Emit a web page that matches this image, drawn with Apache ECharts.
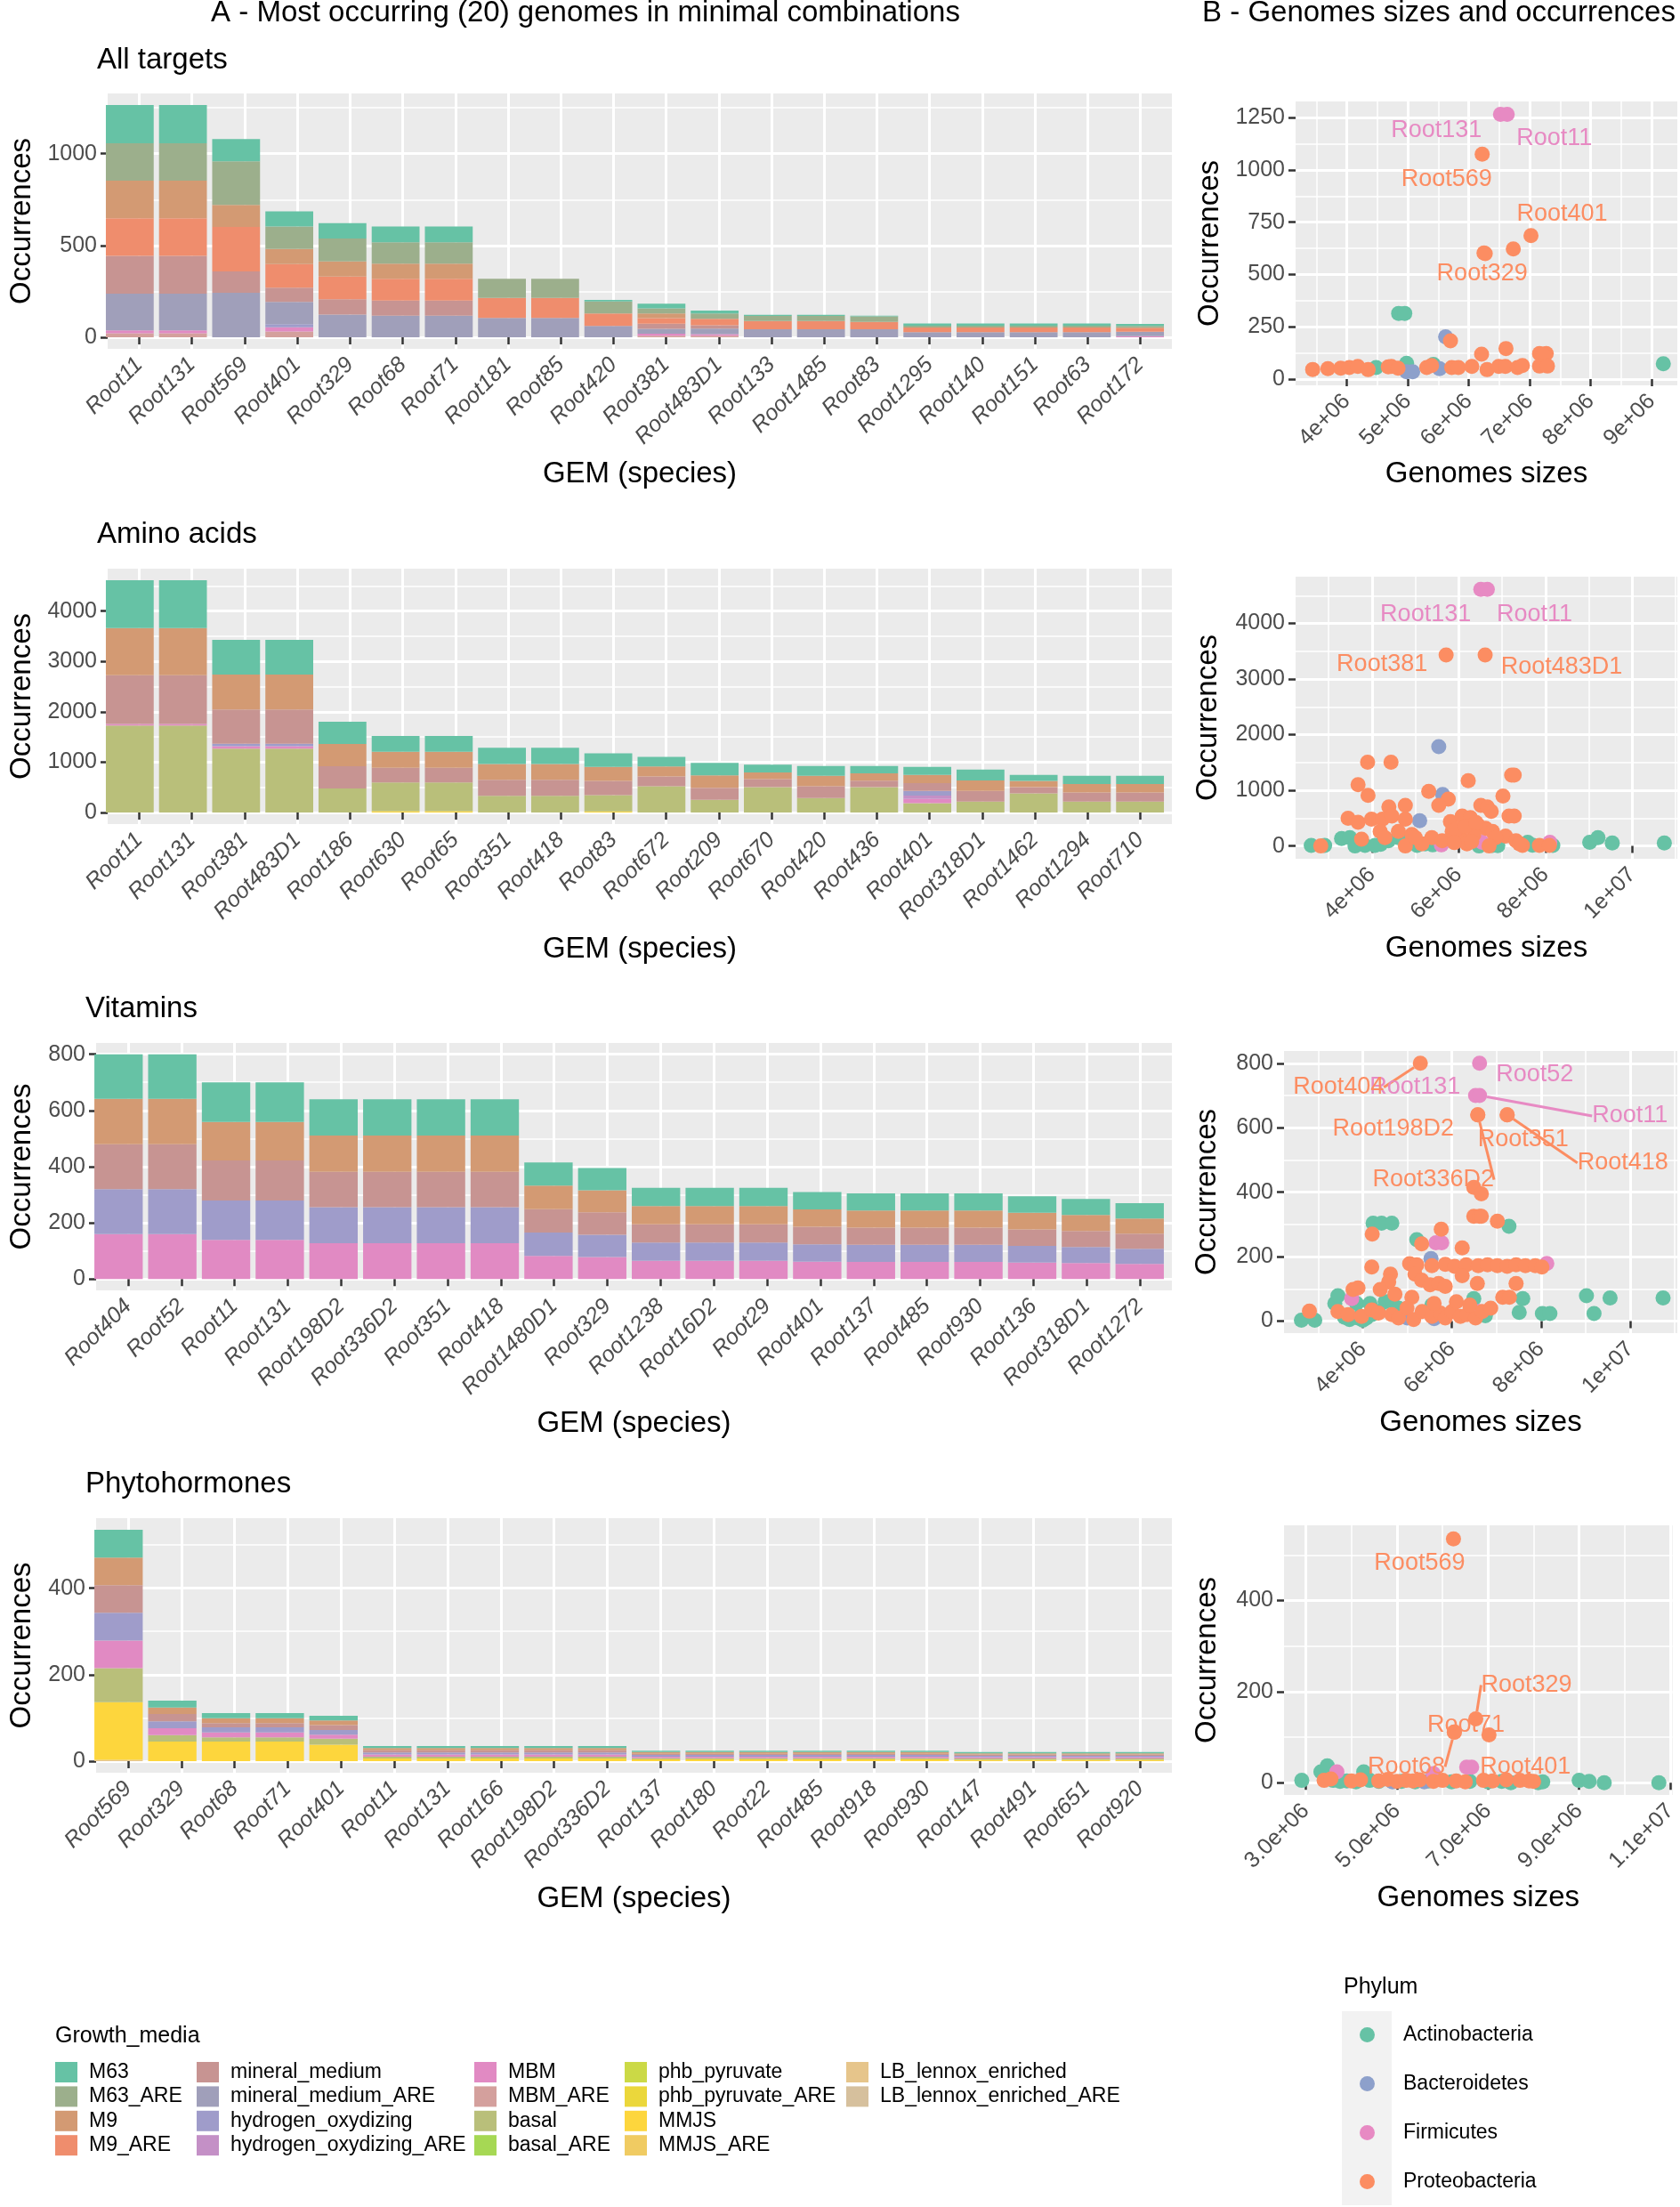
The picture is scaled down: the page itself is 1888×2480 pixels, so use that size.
<!DOCTYPE html>
<html>
<head>
<meta charset="utf-8">
<script src="https://cdn.jsdelivr.net/npm/echarts@6.0.0/dist/echarts.min.js"></script>
<style>
html, body { margin: 0; padding: 0; background: #ffffff; }
#main { width: 1888px; height: 2480px; }
</style>
</head>
<body>
<div id="main"></div>
<script>
var FONT = '"Liberation Sans", Arial, Helvetica, sans-serif';

// growth media, in factor order (first level ends up on top of each stack)
var mediaNames = ['M63', 'M63_ARE', 'M9', 'M9_ARE', 'mineral_medium', 'mineral_medium_ARE',
    'hydrogen_oxydizing', 'hydrogen_oxydizing_ARE', 'MBM', 'MBM_ARE', 'basal', 'basal_ARE',
    'phb_pyruvate', 'phb_pyruvate_ARE', 'MMJS', 'MMJS_ARE', 'LB_lennox_enriched', 'LB_lennox_enriched_ARE'];
var mediaColors = ['#66C2A5', '#9CAF8C', '#D39A73', '#EF8D6D', '#C79492', '#A09FBA',
    '#9F9CCA', '#C490C6', '#E18AC3', '#D4A09D', '#B9BF7A', '#A6D854',
    '#CBD946', '#EBD73B', '#FDD63D', '#F0CB62', '#E6C58B', '#D6C09D'];
var phylumNames = ['Actinobacteria', 'Bacteroidetes', 'Firmicutes', 'Proteobacteria'];
var phylumColors = ['#66C2A5', '#8DA0CB', '#E78AC3', '#FC8D62'];

// ---------- A : bars ----------
// All targets
var allGenomes = ['Root11', 'Root131', 'Root569', 'Root401', 'Root329', 'Root68', 'Root71', 'Root181', 'Root85', 'Root420',
    'Root381', 'Root483D1', 'Root133', 'Root1485', 'Root83', 'Root1295', 'Root140', 'Root151', 'Root63', 'Root172'];
var allStack = [
    ['M63',                [209, 209, 122, 82, 84, 86, 86, 0, 0, 8, 25, 16, 6, 6, 3, 12, 12, 12, 12, 11]],
    ['M63_ARE',            [203, 203, 237, 123, 125, 116, 116, 105, 105, 65, 28, 30, 28, 28, 30, 10, 10, 10, 10, 10]],
    ['M9',                 [205, 205, 120, 82, 82, 82, 82, 0, 0, 0, 26, 0, 0, 0, 0, 0, 0, 0, 0, 0]],
    ['M9_ARE',             [204, 204, 242, 129, 124, 119, 119, 108, 108, 68, 30, 35, 44, 44, 40, 25, 25, 25, 25, 22]],
    ['mineral_medium',     [207, 207, 117, 77, 83, 82, 82, 0, 0, 0, 28, 18, 0, 0, 0, 0, 0, 0, 0, 0]],
    ['mineral_medium_ARE', [199, 199, 242, 122, 124, 118, 118, 106, 106, 62, 27, 30, 44, 44, 44, 28, 28, 28, 28, 24]],
    ['hydrogen_oxydizing', [0, 0, 0, 16, 0, 0, 0, 0, 0, 0, 0, 0, 0, 0, 0, 0, 0, 0, 0, 0]],
    ['MBM',                [16, 16, 0, 24, 0, 0, 0, 0, 0, 0, 10, 8, 0, 0, 0, 0, 0, 0, 0, 6]],
    ['MBM_ARE',            [22, 22, 0, 31, 0, 0, 0, 0, 0, 0, 9, 9, 0, 0, 0, 0, 0, 0, 0, 0]]
];
var allYTicks = [0, 500, 1000];
var allYMinor = [250, 750, 1250];

// Amino acids
var aaGenomes = ['Root11', 'Root131', 'Root381', 'Root483D1', 'Root186', 'Root630', 'Root65', 'Root351', 'Root418', 'Root83',
    'Root672', 'Root209', 'Root670', 'Root420', 'Root436', 'Root401', 'Root318D1', 'Root1462', 'Root1294', 'Root710'];
var aaStack = [
    ['M63',                    [950, 950, 693, 693, 441, 312, 312, 324, 324, 269, 190, 251, 154, 196, 147, 160, 215, 122, 165, 165]],
    ['M9',                     [937, 937, 692, 692, 441, 319, 319, 313, 313, 282, 196, 245, 134, 208, 147, 165, 208, 123, 166, 166]],
    ['mineral_medium',         [968, 968, 680, 680, 441, 294, 294, 318, 318, 282, 196, 239, 160, 233, 129, 153, 215, 122, 184, 184]],
    ['hydrogen_oxydizing',     [0, 0, 50, 50, 0, 0, 0, 0, 0, 0, 0, 0, 0, 0, 0, 92, 0, 0, 0, 0]],
    ['hydrogen_oxydizing_ARE', [0, 0, 0, 0, 0, 0, 0, 0, 0, 0, 0, 0, 0, 0, 0, 70, 0, 0, 0, 0]],
    ['MBM',                    [30, 30, 48, 48, 0, 0, 0, 0, 0, 0, 0, 0, 0, 0, 0, 83, 0, 0, 0, 0]],
    ['basal',                  [1728, 1728, 1268, 1268, 478, 569, 569, 331, 331, 323, 521, 251, 502, 288, 502, 184, 214, 380, 214, 214]],
    ['MMJS',                   [0, 0, 0, 0, 0, 25, 25, 0, 0, 20, 0, 0, 0, 0, 0, 0, 0, 0, 0, 0]]
];
var aaYTicks = [0, 1000, 2000, 3000, 4000];
var aaYMinor = [500, 1500, 2500, 3500, 4500];

// Vitamins
var vitGenomes = ['Root404', 'Root52', 'Root11', 'Root131', 'Root198D2', 'Root336D2', 'Root351', 'Root418', 'Root1480D1', 'Root329',
    'Root1238', 'Root16D2', 'Root29', 'Root401', 'Root137', 'Root485', 'Root930', 'Root136', 'Root318D1', 'Root1272'];
var vitStack = [
    ['M63',                [159, 159, 141, 141, 129, 129, 129, 129, 82, 79, 65, 65, 65, 62, 61, 61, 61, 59, 57, 54]],
    ['M9',                 [161, 161, 137, 137, 129, 129, 129, 129, 84, 78, 65, 65, 65, 62, 61, 61, 61, 59, 57, 54]],
    ['mineral_medium',     [160, 160, 142, 142, 126, 126, 126, 126, 83, 80, 65, 65, 65, 62, 61, 61, 61, 59, 57, 54]],
    ['hydrogen_oxydizing', [160, 160, 140, 140, 128, 128, 128, 128, 83, 79, 65, 65, 65, 62, 61, 61, 61, 59, 57, 54]],
    ['MBM',                [160, 160, 140, 140, 128, 128, 128, 128, 83, 79, 65, 65, 65, 62, 61, 61, 61, 59, 57, 54]]
];
var vitYTicks = [0, 200, 400, 600, 800];
var vitYMinor = [100, 300, 500, 700];

// Phytohormones
var phyGenomes = ['Root569', 'Root329', 'Root68', 'Root71', 'Root401', 'Root11', 'Root131', 'Root166', 'Root198D2', 'Root336D2',
    'Root137', 'Root180', 'Root22', 'Root485', 'Root918', 'Root930', 'Root147', 'Root491', 'Root651', 'Root920'];
var phyStack = [
    ['M63',                [64, 16, 12, 12, 11, 5, 5, 5, 5, 5, 3, 3, 3, 3, 3, 3, 3, 3, 3, 3]],
    ['M9',                 [64, 15, 11, 11, 11, 5, 5, 5, 5, 5, 4, 4, 4, 4, 4, 4, 3, 3, 3, 3]],
    ['mineral_medium',     [64, 17, 10, 10, 11, 5, 5, 5, 5, 5, 3, 3, 3, 3, 3, 3, 3, 3, 3, 3]],
    ['hydrogen_oxydizing', [64, 16, 12, 12, 11, 5, 5, 5, 5, 5, 4, 4, 4, 4, 4, 4, 3, 3, 3, 3]],
    ['MBM',                [64, 16, 11, 11, 9, 5, 5, 5, 5, 5, 3, 3, 3, 3, 3, 3, 3, 3, 3, 3]],
    ['basal',              [79, 15, 10, 10, 14, 4, 4, 4, 4, 4, 3, 3, 3, 3, 3, 3, 3, 3, 3, 3]],
    ['MMJS',               [133, 45, 45, 45, 38, 6, 6, 6, 6, 6, 4, 4, 4, 4, 4, 4, 3, 3, 3, 3]],
    ['LB_lennox_enriched', [3, 0, 0, 0, 0, 0, 0, 0, 0, 0, 0, 0, 0, 0, 0, 0, 0, 0, 0, 0]]
];
var phyYTicks = [0, 200, 400];
var phyYMinor = [100, 300, 500];

// ---------- B : genome size vs occurrences ----------
// [genome size, occurrences, name of labelled genome]
var allActino = [[4.85e6, 314], [4.95e6, 314], [4.48e6, 55], [4.98e6, 75], [5.42e6, 70], [9.19e6, 73]];
var allBactero = [[5.62e6, 202], [4.98e6, 35], [5.08e6, 35], [5.52e6, 50]];
var allFirmi = [[6.52e6, 1265, 'Root131'], [6.63e6, 1265, 'Root11']];
var allProteo = [[6.22e6, 1075, 'Root569'], [7.02e6, 686, 'Root401'], [6.73e6, 622, 'Root329'], [6.25e6, 603], [6.27e6, 600],
    [5.70e6, 183], [6.61e6, 146], [6.21e6, 119], [7.16e6, 122], [7.27e6, 122], [7.22e6, 117],
    [3.44e6, 46], [3.69e6, 50], [3.90e6, 52], [4.04e6, 55], [4.18e6, 60], [4.35e6, 45], [4.68e6, 58], [4.73e6, 60],
    [4.84e6, 52], [5.31e6, 55], [5.39e6, 65], [5.72e6, 55], [5.83e6, 55], [6.05e6, 60], [6.30e6, 45], [6.49e6, 60],
    [6.60e6, 60], [6.80e6, 55], [6.88e6, 65], [7.16e6, 62], [7.29e6, 62]];
var allXTicks = [4e6, 5e6, 6e6, 7e6, 8e6, 9e6];
var allXLabels = ['4e+06', '5e+06', '6e+06', '7e+06', '8e+06', '9e+06'];
var allXMinor = [3.5e6, 4.5e6, 5.5e6, 6.5e6, 7.5e6, 8.5e6];
var allBYTicks = [0, 250, 500, 750, 1000, 1250];
var allBYMinor = [125, 375, 625, 875, 1125];
var allLabels = {Root131: [-72, 18], Root11: [53, 27], Root569: [-40, 28], Root401: [35, -24], Root329: [-35, 28]};

var aaActino = [[2.60e6, 10], [2.91e6, 10], [3.30e6, 133], [3.49e6, 150], [3.61e6, 0], [3.84e6, 10], [4.07e6, 10],
    [4.38e6, 94], [4.61e6, 150], [5.04e6, 10], [5.23e6, 39], [6.47e6, 0], [6.78e6, 10], [7.59e6, 66], [8.17e6, 10],
    [9.02e6, 66], [9.21e6, 150], [9.54e6, 55], [10.74e6, 55], [4.20e6, 30], [4.80e6, 40], [5.40e6, 20], [5.60e6, 30],
    [6.90e6, 5], [7.70e6, 15]];
var aaBactero = [[5.54e6, 1784], [5.63e6, 925], [5.10e6, 454]];
var aaFirmi = [[6.51e6, 4613, 'Root131'], [6.66e6, 4613, 'Root11'], [6.54e6, 66], [8.10e6, 66], [5.60e6, 20]];
var aaProteo = [[5.71e6, 3431, 'Root381'], [6.61e6, 3431, 'Root483D1'], [3.90e6, 1507], [4.44e6, 1507], [7.22e6, 1274],
    [7.28e6, 1274], [6.22e6, 1174], [3.68e6, 1102], [3.91e6, 908], [5.31e6, 980], [5.76e6, 842], [5.54e6, 731],
    [7.02e6, 897], [4.39e6, 703], [4.77e6, 731], [6.51e6, 731], [6.66e6, 703], [6.75e6, 620], [7.16e6, 537],
    [7.28e6, 537], [3.45e6, 498], [3.68e6, 427], [3.99e6, 482], [4.24e6, 482], [4.46e6, 537], [4.77e6, 482],
    [5.81e6, 437], [6.08e6, 537], [6.27e6, 510], [6.45e6, 371], [6.62e6, 316], [6.78e6, 260], [7.08e6, 177],
    [2.82e6, 0], [3.76e6, 122], [4.19e6, 260], [4.61e6, 260], [4.92e6, 205], [5.38e6, 150], [5.62e6, 94],
    [5.85e6, 260], [6.04e6, 150], [6.35e6, 205], [6.85e6, 150], [7.32e6, 94], [7.47e6, 10], [7.86e6, 10],
    [8.09e6, 10], [5.15e6, 39], [4.77e6, 0], [6.19e6, 39], [6.70e6, 0], [5.95e6, 300], [6.15e6, 350],
    [6.40e6, 420], [5.00e6, 150], [4.30e6, 150], [7.40e6, 40], [5.90e6, 60], [6.30e6, 80]];
var aaXTicks = [4e6, 6e6, 8e6, 1e7];
var aaXLabels = ['4e+06', '6e+06', '8e+06', '1e+07'];
var aaXMinor = [3e6, 5e6, 7e6, 9e6, 11e6];
var aaBYTicks = [0, 1000, 2000, 3000, 4000];
var aaBYMinor = [500, 1500, 2500, 3500, 4500];
var aaLabels = {Root131: [-62, 28], Root11: [53, 28], Root381: [-72, 10], Root483D1: [86, 13]};

var vitActino = [[4.23e6, 304], [4.42e6, 304], [4.65e6, 304], [5.21e6, 253], [7.28e6, 294], [7.59e6, 70], [7.51e6, 27],
    [9.02e6, 79], [9.55e6, 72], [9.19e6, 24], [10.74e6, 72], [8.03e6, 24], [8.20e6, 24], [3.37e6, 55], [3.44e6, 79],
    [2.62e6, 3], [2.92e6, 3], [3.89e6, 10], [4.08e6, 10], [3.59e6, 12], [4.20e6, 20], [4.50e6, 60], [4.65e6, 65],
    [3.86e6, 55], [4.16e6, 55], [6.49e6, 70], [6.75e6, 17], [5.55e6, 50], [3.70e6, 5], [4.00e6, 3], [4.35e6, 30],
    [4.80e6, 40], [5.70e6, 20]];
var vitBactero = [[5.53e6, 194], [5.00e6, 10], [5.60e6, 8]];
var vitFirmi = [[6.62e6, 800, 'Root52'], [6.53e6, 700, 'Root131'], [6.62e6, 700, 'Root11'], [5.64e6, 243], [5.77e6, 243],
    [8.13e6, 179], [3.75e6, 70], [6.60e6, 30]];
var vitProteo = [[5.29e6, 800, 'Root404'], [6.58e6, 640, 'Root198D2'], [6.58e6, 640, 'Root336D2'], [7.24e6, 640, 'Root351'],
    [7.24e6, 640, 'Root418'], [6.49e6, 415], [6.66e6, 395], [6.49e6, 325], [6.62e6, 325], [6.66e6, 325], [7.02e6, 310],
    [4.21e6, 270], [5.32e6, 240], [5.76e6, 285], [6.23e6, 227], [5.05e6, 178], [5.21e6, 175], [5.55e6, 172],
    [5.85e6, 176], [6.06e6, 170], [6.32e6, 175], [6.59e6, 172], [6.80e6, 175], [7.02e6, 172], [7.24e6, 170],
    [7.44e6, 175], [7.65e6, 172], [7.87e6, 172], [8.02e6, 168], [4.20e6, 168], [4.62e6, 146], [4.58e6, 122],
    [4.39e6, 98], [3.78e6, 98], [3.89e6, 103], [7.44e6, 117], [5.17e6, 146], [5.32e6, 127], [5.51e6, 113],
    [5.70e6, 117], [5.85e6, 108], [6.23e6, 141], [6.57e6, 117], [7.14e6, 74], [7.29e6, 74], [4.72e6, 84],
    [5.10e6, 74], [2.80e6, 31], [3.44e6, 30], [3.67e6, 20], [3.97e6, 15], [4.20e6, 35], [4.35e6, 25], [4.65e6, 20],
    [4.80e6, 10], [4.99e6, 40], [5.14e6, 5], [5.33e6, 30], [5.55e6, 15], [5.74e6, 25], [5.85e6, 10], [6.00e6, 30],
    [6.19e6, 15], [6.34e6, 20], [6.53e6, 10], [6.68e6, 30], [6.87e6, 40], [5.60e6, 55], [6.10e6, 60], [6.40e6, 50]];
var vitXTicks = [4e6, 6e6, 8e6, 1e7];
var vitXLabels = ['4e+06', '6e+06', '8e+06', '1e+07'];
var vitXMinor = [3e6, 5e6, 7e6, 9e6, 11e6];
var vitBYTicks = [0, 200, 400, 600, 800];
var vitBYMinor = [100, 300, 500, 700];
var vitLabels = {Root404: [-92, 27, true], Root131: [-68, -9], Root52: [62, 13], Root11: [169, 23, true],
    Root198D2: [-95, 16], Root336D2: [-50, 73, true], Root351: [18, 28], Root418: [130, 54, true]};

var phyActino = [[2.91e6, 5], [3.33e6, 24], [3.47e6, 37], [4.27e6, 24], [9.00e6, 5], [9.22e6, 3], [9.55e6, 0], [10.75e6, 0],
    [3.60e6, 5], [3.75e6, 3], [3.90e6, 4], [4.10e6, 2], [4.40e6, 5], [4.60e6, 3], [5.10e6, 3], [5.40e6, 2], [5.70e6, 4],
    [6.20e6, 2], [6.60e6, 3], [7.00e6, 2], [7.30e6, 3], [7.50e6, 0], [8.10e6, 0], [8.20e6, 2]];
var phyBactero = [[4.90e6, 2], [5.60e6, 2]];
var phyFirmi = [[6.53e6, 34], [6.64e6, 34], [3.68e6, 24], [5.80e6, 20]];
var phyProteo = [[6.24e6, 535, 'Root569'], [6.73e6, 140, 'Root329'], [6.26e6, 111, 'Root71'], [6.26e6, 111, 'Root68'],
    [7.02e6, 105, 'Root401'], [3.40e6, 5], [3.55e6, 8], [4.00e6, 4], [4.20e6, 6], [4.60e6, 4], [4.80e6, 7], [5.00e6, 3],
    [5.20e6, 5], [5.35e6, 4], [5.50e6, 6], [5.80e6, 3], [6.00e6, 5], [6.30e6, 4], [6.50e6, 2], [6.90e6, 5], [7.10e6, 4],
    [7.40e6, 6], [7.70e6, 5], [7.90e6, 4], [8.00e6, 3]];
var phyXTicks = [3e6, 5e6, 7e6, 9e6, 11e6];
var phyXLabels = ['3.0e+06', '5.0e+06', '7.0e+06', '9.0e+06', '1.1e+07'];
var phyXMinor = [4e6, 6e6, 8e6, 10e6];
var phyBYTicks = [0, 200, 400];
var phyBYMinor = [100, 300, 500];
var phyLabels = {Root569: [-38, 27], Root329: [57, -38, true], Root71: [13, -8], Root68: [-54, 39, true], Root401: [41, 36]};

// ---------- building the option ----------
var grids = [], xAxes = [], yAxes = [], series = [];

function addGrid(box, panel) {
    grids.push({left: box[0], top: box[1], width: box[2], height: box[3], show: panel,
        backgroundColor: panel ? '#EBEBEB' : 'transparent', borderWidth: 0});
    return grids.length - 1;
}

function mainAxis(gi, a) {
    return {
        type: 'value', gridIndex: gi, min: a.min, max: a.max,
        name: a.name, nameLocation: 'middle', nameGap: a.nameGap, nameRotate: a.nameRotate || 0,
        nameTextStyle: {fontFamily: FONT, fontSize: 33, color: '#000000'},
        axisLine: {show: false},
        axisTick: {show: true, customValues: a.ticks, length: 8, lineStyle: {color: '#333333', width: 2.5}},
        axisLabel: {show: true, customValues: a.ticks, formatter: a.fmt, rotate: a.rotate || 0, margin: a.margin,
            fontFamily: FONT, fontSize: 25, color: '#4D4D4D', fontStyle: a.italic ? 'italic' : 'normal'},
        splitLine: {show: true, lineStyle: {color: '#FFFFFF', width: 3}}
    };
}

function minorAxis(gi, range, values) {
    return {
        type: 'value', gridIndex: gi, min: range[0], max: range[1],
        axisLine: {show: false},
        axisTick: {show: false, customValues: values},
        axisLabel: {show: false, customValues: values},
        splitLine: {show: true, lineStyle: {color: '#FFFFFF', width: 1.5}}
    };
}

// grey panel carries the ggplot-like axes; an inset grid (0.6 unit expansion each side) holds the stacked bars
function barPanel(box, genomes, stack, yRange, yTicks, yMinor, gapX, gapY) {
    var n = genomes.length;
    var gi = addGrid(box, true);
    xAxes.push(mainAxis(gi, {
        min: 0.4, max: n + 0.6,
        ticks: genomes.map(function (g, i) { return i + 1; }),
        fmt: function (v) { return genomes[Math.round(v) - 1]; },
        rotate: 45, italic: true, margin: 14, name: 'GEM (species)', nameGap: gapX
    }));
    yAxes.push(mainAxis(gi, {
        min: yRange[0], max: yRange[1], ticks: yTicks,
        fmt: function (v) { return String(v); },
        margin: 12, name: 'Occurrences', nameGap: gapY, nameRotate: 90
    }));
    yAxes.push(minorAxis(gi, yRange, yMinor));

    var unit = box[2] / (n + 0.2);
    var di = addGrid([box[0] + 0.1 * unit, box[1], n * unit, box[3]], false);
    var xi = xAxes.length;
    xAxes.push({type: 'category', gridIndex: di, data: genomes, show: false, boundaryGap: true});
    var yi = yAxes.length;
    yAxes.push({type: 'value', gridIndex: di, min: yRange[0], max: yRange[1], show: false, splitLine: {show: false}});

    for (var m = mediaNames.length - 1; m >= 0; m--) {
        var vals = null;
        stack.forEach(function (s) { if (s[0] === mediaNames[m]) vals = s[1]; });
        series.push({
            type: 'bar', name: mediaNames[m], xAxisIndex: xi, yAxisIndex: yi,
            stack: 'g' + gi, barWidth: '90%',
            data: genomes.map(function (g, i) { return vals ? vals[i] : 0; }),
            itemStyle: {color: mediaColors[m]}
        });
    }
}

function scatterPanel(box, xRange, xTicks, xLabels, xMinor, yRange, yTicks, yMinor, groups, labels, gapX, gapY) {
    var gi = addGrid(box, true);
    var xi = xAxes.length;
    xAxes.push(mainAxis(gi, {
        min: xRange[0], max: xRange[1], ticks: xTicks,
        fmt: function (v) {
            var best = 0;
            xTicks.forEach(function (t, i) { if (Math.abs(t - v) < Math.abs(xTicks[best] - v)) best = i; });
            return xLabels[best];
        },
        rotate: 45, margin: 14, name: 'Genomes sizes', nameGap: gapX
    }));
    xAxes.push(minorAxis(gi, xRange, xMinor));
    var yi = yAxes.length;
    yAxes.push(mainAxis(gi, {
        min: yRange[0], max: yRange[1], ticks: yTicks,
        fmt: function (v) { return String(v); },
        margin: 12, name: 'Occurrences', nameGap: gapY, nameRotate: 90
    }));
    yAxes.push(minorAxis(gi, yRange, yMinor));

    var labelData = [], offs = [];
    groups.forEach(function (pts, k) {
        series.push({
            type: 'scatter', name: phylumNames[k], xAxisIndex: xi, yAxisIndex: yi,
            symbolSize: 17, itemStyle: {color: phylumColors[k], opacity: 1},
            data: pts.map(function (p) { return [p[0], p[1]]; })
        });
        pts.forEach(function (p) {
            if (p[2] && labels[p[2]]) {
                var o = labels[p[2]];
                offs.push(o);
                labelData.push({
                    value: [p[0], p[1]],
                    label: {show: true, formatter: p[2], color: phylumColors[k], opacity: 1},
                    labelLine: {show: !!o[2], lineStyle: {color: phylumColors[k], width: 3, opacity: 1}}
                });
            }
        });
    });
    series.push({
        type: 'scatter', name: 'labels', xAxisIndex: xi, yAxisIndex: yi, z: 4, silent: true,
        symbolSize: 17, itemStyle: {color: 'rgba(0,0,0,0)'},
        label: {show: true, position: 'inside', fontFamily: FONT, fontSize: 27, opacity: 1},
        labelLine: {show: false},
        labelLayout: function (params) {
            var o = offs[params.dataIndex];
            return {dx: o[0], dy: o[1], hideOverlap: false};
        },
        data: labelData
    });
}

barPanel([110, 105, 1207, 287], allGenomes, allStack, [-63, 1328], allYTicks, allYMinor, 124, 80);
barPanel([110, 639, 1207, 287], aaGenomes, aaStack, [-231, 4844], aaYTicks, aaYMinor, 124, 80);
barPanel([97, 1172, 1220, 278], vitGenomes, vitStack, [-40, 840], vitYTicks, vitYMinor, 133, 67);
barPanel([97, 1706, 1220, 286], phyGenomes, phyStack, [-27, 562], phyYTicks, phyYMinor, 125, 67);

scatterPanel([1456, 114, 429, 319], [3.16e6, 9.42e6], allXTicks, allXLabels, allXMinor, [-30, 1327],
    allBYTicks, allBYMinor, [allActino, allBactero, allFirmi, allProteo], allLabels, 83, 80);
scatterPanel([1456, 648, 429, 317], [2.24e6, 11.04e6], aaXTicks, aaXLabels, aaXMinor, [-230, 4840],
    aaBYTicks, aaBYMinor, [aaActino, aaBactero, aaFirmi, aaProteo], aaLabels, 84, 82);
scatterPanel([1443, 1181, 442, 317], [2.23e6, 11.06e6], vitXTicks, vitXLabels, vitXMinor, [-37, 838],
    vitBYTicks, vitBYMinor, [vitActino, vitBactero, vitFirmi, vitProteo], vitLabels, 84, 70);
scatterPanel([1443, 1714, 442, 303], [2.52e6, 11.05e6], phyXTicks, phyXLabels, phyXMinor, [-27, 565],
    phyBYTicks, phyBYMinor, [phyActino, phyBactero, phyFirmi, phyProteo], phyLabels, 99, 70);

// legends: growth media in 5 columns, phylum in one
var legendCols = [[0, 1, 2, 3], [4, 5, 6, 7], [8, 9, 10, 11], [12, 13, 14, 15], [16, 17]];
var legendLefts = [62, 221, 533, 702, 951];
var legends = legendCols.map(function (col, c) {
    return {
        orient: 'vertical', left: legendLefts[c], top: 2317, padding: 0,
        itemWidth: 25, itemHeight: 23, itemGap: 4.4, icon: 'rect', selectedMode: false,
        textStyle: {fontFamily: FONT, fontSize: 23, lineHeight: 23, color: '#000000', padding: [0, 0, 0, 8]},
        data: col.map(function (i) { return mediaNames[i]; })
    };
});
legends.push({
    orient: 'vertical', left: 1528, top: 2275, padding: 0, height: 200,
    itemWidth: 17, itemHeight: 23, itemGap: 32, icon: 'circle', selectedMode: false,
    textStyle: {fontFamily: FONT, fontSize: 23, lineHeight: 23, color: '#000000', padding: [0, 0, 0, 27]},
    data: phylumNames
});

function txt(s, x, y, size, align) {
    return {type: 'text', x: x, y: y, z: 10, style: {text: s, fill: '#000000', fontFamily: FONT, fontSize: size,
        align: align, textAlign: align, verticalAlign: 'middle', textVerticalAlign: 'middle'}};
}

var graphics = [
    txt('A - Most occurring (20) genomes in minimal combinations', 658, 15, 33, 'center'),
    txt('B - Genomes sizes and occurrences', 1617, 15, 33, 'center'),
    txt('All targets', 109, 68, 33, 'left'),
    txt('Amino acids', 109, 601, 33, 'left'),
    txt('Vitamins', 96, 1134, 33, 'left'),
    txt('Phytohormones', 96, 1668, 33, 'left'),
    txt('Growth_media', 62, 2288, 25, 'left'),
    txt('Phylum', 1510, 2233, 25, 'left'),
    {type: 'rect', z: 0, shape: {x: 1508, y: 2260, width: 56, height: 218}, style: {fill: '#F2F2F2'}}
];

var myChart = echarts.init(document.getElementById('main'), null, {renderer: 'canvas'});
myChart.setOption({
    animation: false,
    backgroundColor: '#FFFFFF',
    textStyle: {fontFamily: FONT},
    grid: grids,
    xAxis: xAxes,
    yAxis: yAxes,
    legend: legends,
    graphic: graphics,
    series: series
});
</script>
</body>
</html>
